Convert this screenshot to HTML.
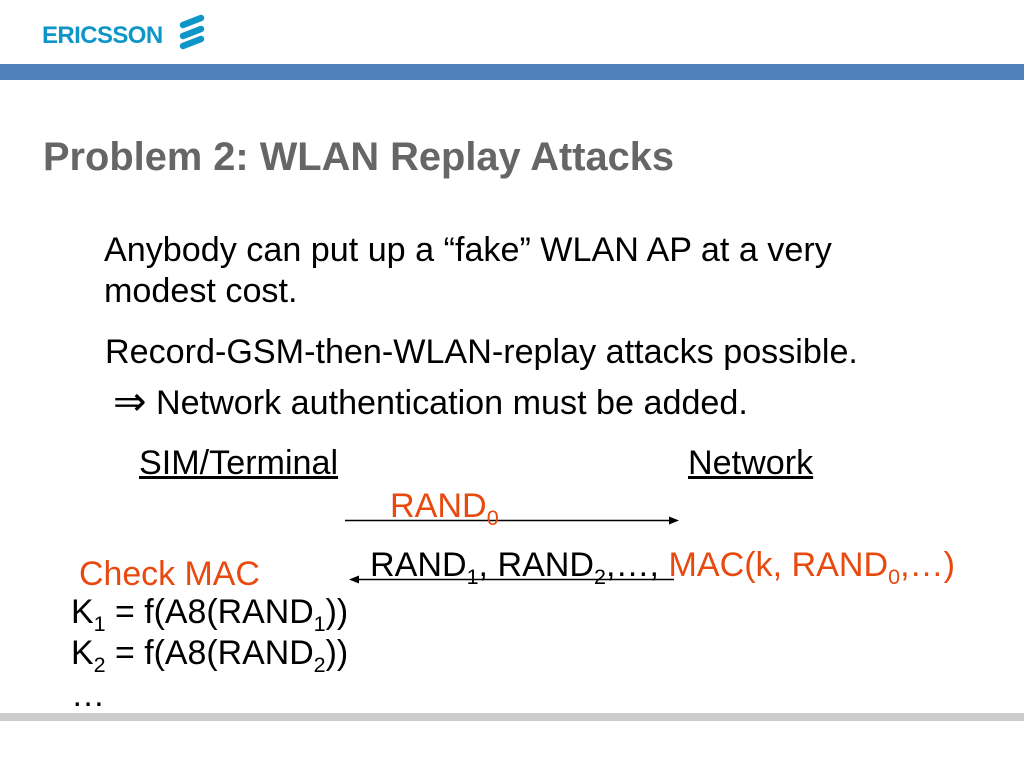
<!DOCTYPE html>
<html>
<head>
<meta charset="utf-8">
<style>
html,body{margin:0;padding:0;background:#fff}
#s{position:relative;width:1024px;height:768px;overflow:hidden;background:#fff;font-family:"Liberation Sans",Arial,sans-serif;color:#000}
.t{position:absolute;white-space:nowrap;font-size:34.13px;line-height:36px}
.l{font-size:33.9px}
.o{color:#e8490f}
sub{font-size:21.5px;line-height:0;vertical-align:-8px}
.bar{position:absolute;left:0;width:1024px}
svg{position:absolute;left:0;top:0}
</style>
</head>
<body>
<div id="s">
<div class="bar" style="top:64px;height:16px;background:#4f81bd"></div>
<div class="bar" style="top:713px;height:8px;background:#cccccc"></div>
<div class="t" style="left:42px;top:24px;font-size:24px;line-height:24px;font-weight:bold;color:#0f96c8;letter-spacing:-.6px">ERICSSON</div>
<svg width="1024" height="768">
<g stroke="#0f96c8" stroke-width="6.5" stroke-linecap="round" fill="none">
<line x1="183" y1="25" x2="201" y2="18"/>
<line x1="183" y1="36" x2="201" y2="29"/>
<line x1="183" y1="46" x2="201" y2="39"/>
</g>
<line x1="345" y1="520.5" x2="670" y2="520.5" stroke="#000" stroke-width="1.5"/>
<polygon points="679,520.5 669,516.5 669,524.5" fill="#000"/>
<line x1="358" y1="579.5" x2="674" y2="579.5" stroke="#000" stroke-width="1.5"/>
<polygon points="349,579.5 359,575.5 359,583.5" fill="#000"/>
</svg>
<div class="t" style="left:43px;top:136px;font-size:39.8px;line-height:42px;font-weight:bold;color:#666">Problem 2: WLAN Replay Attacks</div>
<div class="t" style="left:104px;top:232px">Anybody can put up a “fake” WLAN AP at a very</div>
<div class="t" style="left:104px;top:273px">modest cost.</div>
<div class="t" style="left:105px;top:334px">Record-GSM-then-WLAN-replay attacks possible.</div>
<div class="t" style="left:113px;top:384px"><span style="font-family:'DejaVu Sans',sans-serif;font-size:40px">⇒</span></div>
<div class="t" style="left:156px;top:385px">Network authentication must be added.</div>
<div class="t" style="left:139px;top:445px;text-decoration:underline">SIM/Terminal</div>
<div class="t" style="left:688px;top:445px;text-decoration:underline">Network</div>
<div class="t o" style="left:390px;top:488px">RAND<sub>0</sub></div>
<div class="t" style="left:370px;top:547px;font-size:34.08px">RAND<sub>1</sub>, RAND<sub>2</sub>,…, <span class="o">MAC(k, RAND<sub>0</sub>,…)</span></div>
<div class="t o l" style="left:79px;top:556px">Check MAC</div>
<div class="t l" style="left:71px;top:594px">K<sub>1</sub> = f(A8(RAND<sub>1</sub>))</div>
<div class="t l" style="left:71px;top:635px">K<sub>2</sub> = f(A8(RAND<sub>2</sub>))</div>
<div class="t" style="left:71px;top:677px">…</div>
</div>
</body>
</html>
